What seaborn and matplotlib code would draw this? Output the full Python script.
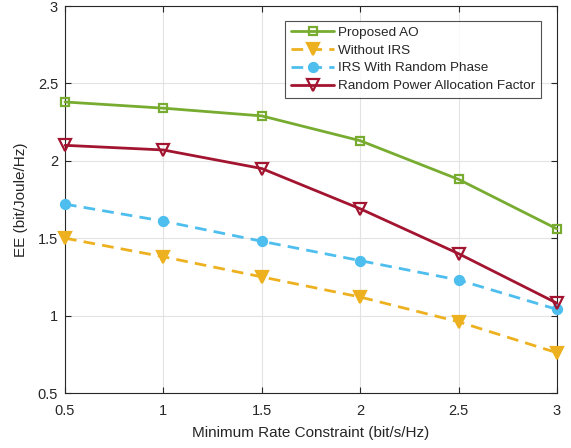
import matplotlib
matplotlib.use("Agg")
import matplotlib.pyplot as plt
import seaborn as sns
import pandas as pd

x_vals = [0.5, 1.0, 1.5, 2.0, 2.5, 3.0]
proposed_ao = [2.38, 2.34, 2.29, 2.13, 1.88, 1.56]
without_irs = [1.50, 1.38, 1.25, 1.12, 0.96, 0.76]
irs_random_phase = [1.72, 1.61, 1.48, 1.355, 1.23, 1.04]
random_power = [2.10, 2.07, 1.95, 1.69, 1.40, 1.08]

labels = ["Proposed AO", "Without IRS", "IRS With Random Phase", "Random Power Allocation Factor"]
x_ticks = [0.5, 1, 1.5, 2, 2.5, 3]
y_ticks = [0.5, 1, 1.5, 2, 2.5, 3]

sns.set_theme(style="white")
plt.rcParams['font.family'] = ['Liberation Sans', 'DejaVu Sans']

fig = plt.figure(figsize=(5.71, 4.48), dpi=100)
ax = fig.add_axes([65/571, 1-393/448, 492/571, 387/448])

series = [proposed_ao, without_irs, irs_random_phase, random_power]
colors = ["#77AC30", "#EDB120", "#4DBEEE", "#A2142F"]
markers = ["s", "v", "o", "v"]
dashed = [False, True, True, False]
faces = ["none", "#EDB120", "#4DBEEE", "none"]
msizes = [6, 8.5, 6.5, 8.5]

for vals, lab, c, m, d, fc, ms in zip(series, labels, colors, markers, dashed, faces, msizes):
    df = pd.DataFrame({"x": x_vals, "y": vals})
    sns.lineplot(data=df, x="x", y="y", ax=ax, color=c, marker=m, markersize=ms,
                 markerfacecolor=fc, markeredgecolor=c, markeredgewidth=1.6,
                 linewidth=2.0, label=lab, clip_on=False, zorder=3,
                 linestyle=(0, (4.2, 2.6)) if d else "-")

ax.set_xlim(0.5, 3)
ax.set_ylim(0.5, 3)
ax.set_xticks(x_ticks)
ax.set_xticklabels(["0.5", "1", "1.5", "2", "2.5", "3"])
ax.set_yticks(y_ticks)
ax.set_yticklabels(["0.5", "1", "1.5", "2", "2.5", "3"])
ax.grid(True, color="#e3e3e3", linewidth=0.8)
ax.set_axisbelow(True)
ax.tick_params(direction="in", length=4, width=0.8, color="#262626",
               top=True, right=True, bottom=True, left=True, labelsize=10.5,
               labelcolor="#262626")
ax.tick_params(axis="x", pad=8)
ax.tick_params(axis="y", pad=5)
for s in ax.spines.values():
    s.set_color("#262626")
    s.set_linewidth(0.8)
ax.set_xlabel("Minimum Rate Constraint (bit/s/Hz)", fontsize=11, color="#262626", labelpad=6)
ax.set_ylabel("EE (bit/Joule/Hz)", fontsize=11, color="#262626", labelpad=7)

leg = ax.legend(loc="upper right", bbox_to_anchor=(0.9675, 0.962), borderaxespad=0,
                fontsize=9.7, frameon=True, fancybox=False, edgecolor="#262626",
                handlelength=3.2, handletextpad=0.3, labelspacing=0.4,
                borderpad=0.42)
leg.get_frame().set_linewidth(0.8)

fig.savefig("out.png", dpi=100)
